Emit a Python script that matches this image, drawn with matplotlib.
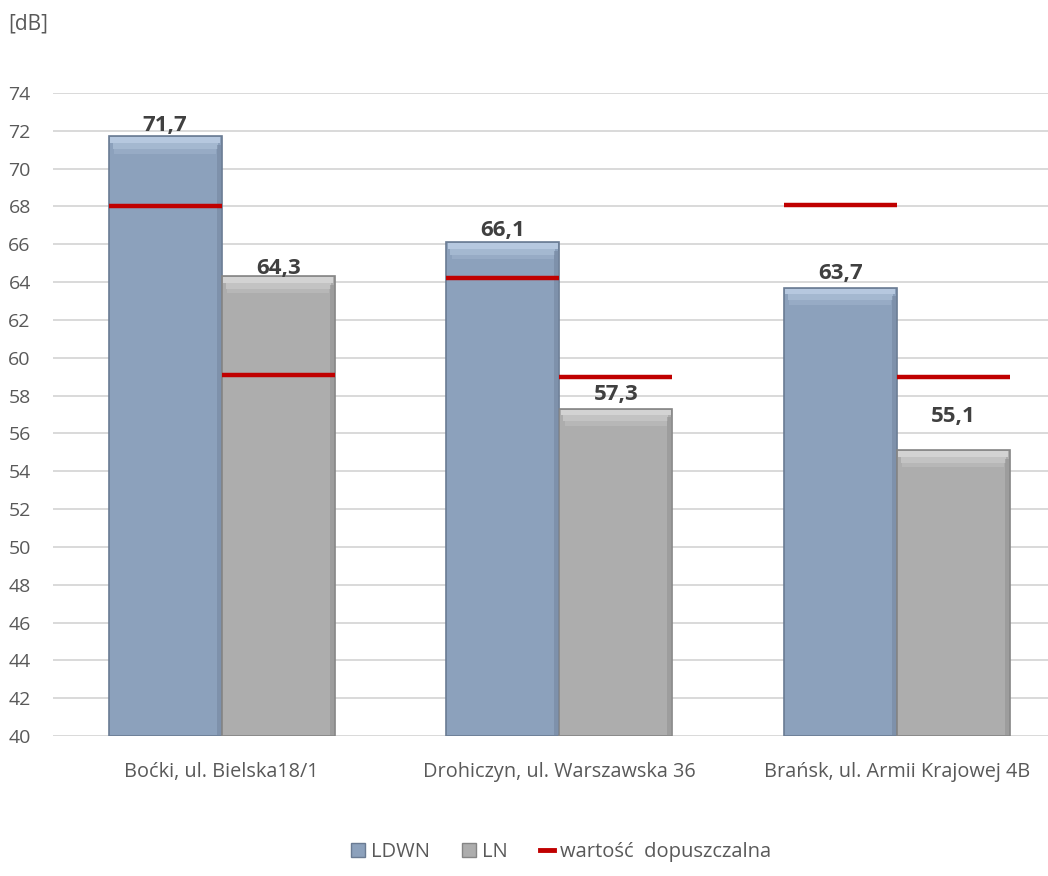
import matplotlib
matplotlib.use("Agg")
import matplotlib.pyplot as plt
import numpy as np
from matplotlib.patches import Patch
from matplotlib.lines import Line2D

categories = ["Boćki, ul. Bielska18/1", "Drohiczyn, ul. Warszawska 36", "Brańsk, ul. Armii Krajowej 4B"]
ldwn = [71.7, 66.1, 63.7]
ln = [64.3, 57.3, 55.1]
limit_ldwn = [68.0, 64.2, 68.1]
limit_ln = [59.1, 59.0, 59.0]
yticks = list(range(40, 75, 2))

plt.rcParams['font.family'] = ['Open Sans', 'DejaVu Sans']

fig = plt.figure(figsize=(10.48, 8.76), dpi=100)
ax = fig.add_axes([53/1048, 1-736/876, 995/1048, (736-93)/876])

x = np.arange(len(categories))
w = 0.335
c_ldwn, e_ldwn, h_ldwn, d_ldwn = "#8CA1BC", "#6A7B93", "#B9CBE2", "#7587A1"
c_ln, e_ln, h_ln, d_ln = "#ADADAD", "#858585", "#D6D6D6", "#939393"

xl = x - w/2
xr = x + w/2


def draw_bars(xs, vals, c, e, h, d):
    vals = np.array(vals)
    ax.bar(xs, vals - 40, bottom=40, width=w, color=c, edgecolor=e, linewidth=1.2, zorder=2)
    # bevel: light top fading down, darker right side
    ax.bar(xs, 0.3, bottom=vals - 0.35, width=w * 0.97, color=h, linewidth=0, zorder=3, alpha=0.95)
    ax.bar(xs, 0.3, bottom=vals - 0.65, width=w * 0.93, color=h, linewidth=0, zorder=3, alpha=0.55)
    ax.bar(xs, 0.25, bottom=vals - 0.9, width=w * 0.9, color=h, linewidth=0, zorder=3, alpha=0.25)
    ax.bar(xs + w * 0.475, vals - 40.5, bottom=40.05, width=w * 0.04, color=d, linewidth=0, zorder=3, alpha=0.6)


draw_bars(xl, ldwn, c_ldwn, e_ldwn, h_ldwn, d_ldwn)
draw_bars(xr, ln, c_ln, e_ln, h_ln, d_ln)

ax.hlines(limit_ldwn, xl - w/2, xl + w/2, color="#C00000", linewidth=3.2, zorder=4)
ax.hlines(limit_ln, xr - w/2, xr + w/2, color="#C00000", linewidth=3.2, zorder=4)

off_l = [0.6, 0.65, 0.73]
off_r = [0.4, 0.78, 1.8]
for xi, v, o in zip(xl, ldwn, off_l):
    ax.text(xi, v + o, f"{v:.1f}".replace(".", ","), ha="center", va="center",
            fontsize=16, fontweight="bold", color="#404040", zorder=5)
for xi, v, o in zip(xr, ln, off_r):
    ax.text(xi, v + o, f"{v:.1f}".replace(".", ","), ha="center", va="center",
            fontsize=16, fontweight="bold", color="#404040", zorder=5)

ax.set_ylim(40, 74)
ax.set_xlim(-0.5, -0.5 + 995/337.5)
ax.set_yticks(yticks)
ax.set_yticklabels([str(t) for t in yticks], fontsize=14, color="#595959")
ax.set_xticks(x)
ax.set_xticklabels(categories, fontsize=14.3, color="#595959")
ax.tick_params(axis="both", length=0)
ax.tick_params(axis="y", pad=16)
ax.tick_params(axis="x", pad=19)
ax.yaxis.grid(True, color="#D9D9D9", linewidth=1.4, zorder=0)
ax.set_axisbelow(True)
for s in ax.spines.values():
    s.set_visible(False)

fig.text(8/1048, 1-24/876, "[dB]", fontsize=15, color="#595959", va="center", ha="left")

handles = [
    Patch(facecolor=c_ldwn, edgecolor=e_ldwn, label="LDWN"),
    Patch(facecolor=c_ln, edgecolor=e_ln, label="LN"),
    Line2D([0], [0], color="#C00000", lw=3.5, label="wartość  dopuszczalna"),
]
fig.legend(handles=handles, loc="center", bbox_to_anchor=(561/1048, 1-852/876), ncol=3,
           frameon=False, fontsize=14.5, handlelength=0.7, handleheight=0.7,
           handletextpad=0.3, columnspacing=1.6, labelcolor="#595959")

fig.savefig("out.png", dpi=100)
